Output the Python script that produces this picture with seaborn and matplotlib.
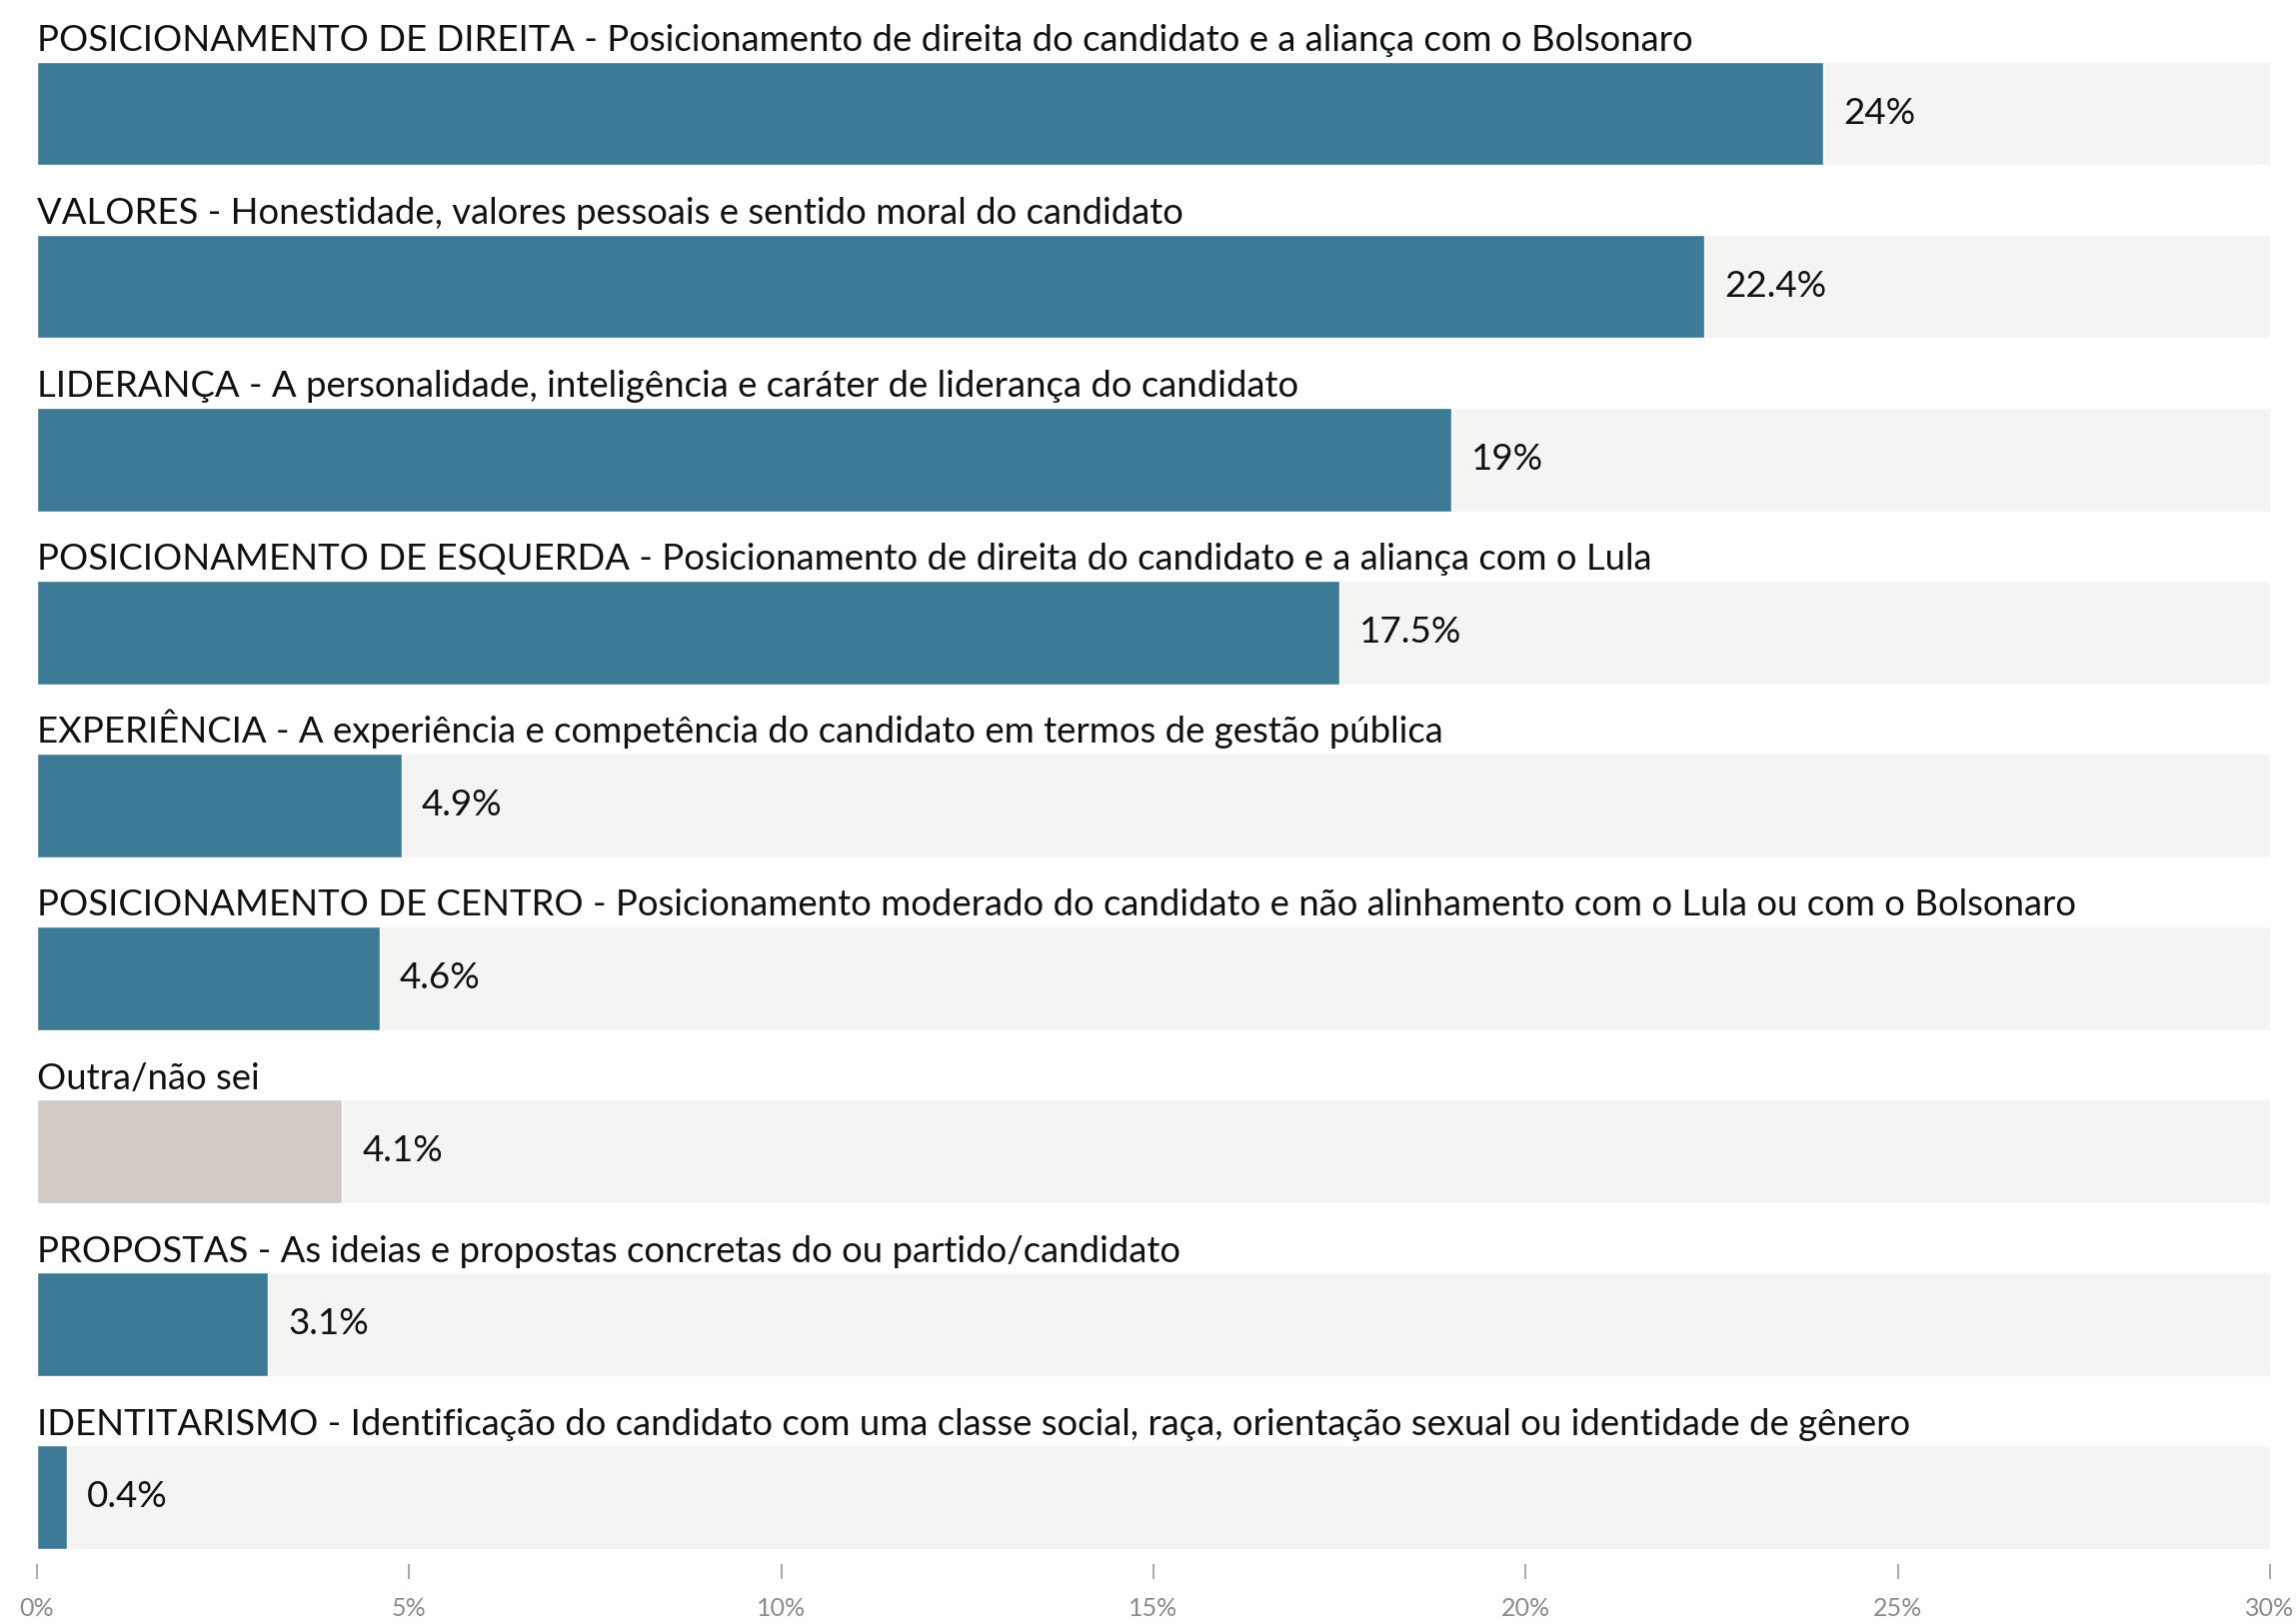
import matplotlib
matplotlib.use("Agg")
import matplotlib.pyplot as plt
import seaborn as sns
import pandas as pd

# Data
categorias = [
    "POSICIONAMENTO DE DIREITA - Posicionamento de direita do candidato e a aliança com o Bolsonaro",
    "VALORES - Honestidade, valores pessoais e sentido moral do candidato",
    "LIDERANÇA - A personalidade, inteligência e caráter de liderança do candidato",
    "POSICIONAMENTO DE ESQUERDA - Posicionamento de direita do candidato e a aliança com o Lula",
    "EXPERIÊNCIA - A experiência e competência do candidato em termos de gestão pública",
    "POSICIONAMENTO DE CENTRO - Posicionamento moderado do candidato e não alinhamento com o Lula ou com o Bolsonaro",
    "Outra/não sei",
    "PROPOSTAS - As ideias e propostas concretas do ou partido/candidato",
    "IDENTITARISMO - Identificação do candidato com uma classe social, raça, orientação sexual ou identidade de gênero",
]
valores = [24, 22.4, 19, 17.5, 4.9, 4.6, 4.1, 3.1, 0.4]
rotulos = ["24%", "22.4%", "19%", "17.5%", "4.9%", "4.6%", "4.1%", "3.1%", "0.4%"]
grupo = ["main", "main", "main", "main", "main", "main", "other", "main", "main"]
escala_max = 30
ticks = [0, 5, 10, 15, 20, 25, 30]
tick_labels = ["0%", "5%", "10%", "15%", "20%", "25%", "30%"]

df = pd.DataFrame({"categoria": categorias, "valor": valores, "grupo": grupo,
                   "fundo": [escala_max] * len(categorias)})

sns.set_style("white")
plt.rcParams["font.family"] = ["Lato", "DejaVu Sans"]

fig = plt.figure(figsize=(22.97, 16.25), dpi=100)
ax = fig.add_axes([0.0161, 0.037, 0.9725, 0.963])

# background track bars
sns.barplot(data=df, y="categoria", x="fundo", color="#f4f4f2", width=0.6,
            saturation=1, ax=ax, orient="h")
# value bars
sns.barplot(data=df, y="categoria", x="valor", hue="grupo",
            palette={"main": "#3d7a96", "other": "#d3cac5"}, width=0.6,
            saturation=1, dodge=False, legend=False, ax=ax, orient="h")

for i, (cat, v, lab) in enumerate(zip(categorias, valores, rotulos)):
    ax.text(0, i - 0.36, cat, fontsize=26.3, color="#111111", va="baseline", ha="left")
    ax.annotate(lab, (v, i), xytext=(14.5, 0), textcoords="offset points",
                fontsize=26.5, color="#111111", va="center", ha="left")

ax.set_xlim(0, escala_max)
ax.set_ylim(8.387, -0.656)
ax.set_xticks(ticks)
ax.set_xticklabels(tick_labels, fontsize=18, color="#8c8c8c")
ax.tick_params(axis="x", which="major", direction="out", length=11, width=1.2,
               color="#999999", pad=13, bottom=True)
ax.set_yticks([])
ax.set_xlabel("")
ax.set_ylabel("")
for s in ax.spines.values():
    s.set_visible(False)

fig.savefig("out.png", dpi=100)
